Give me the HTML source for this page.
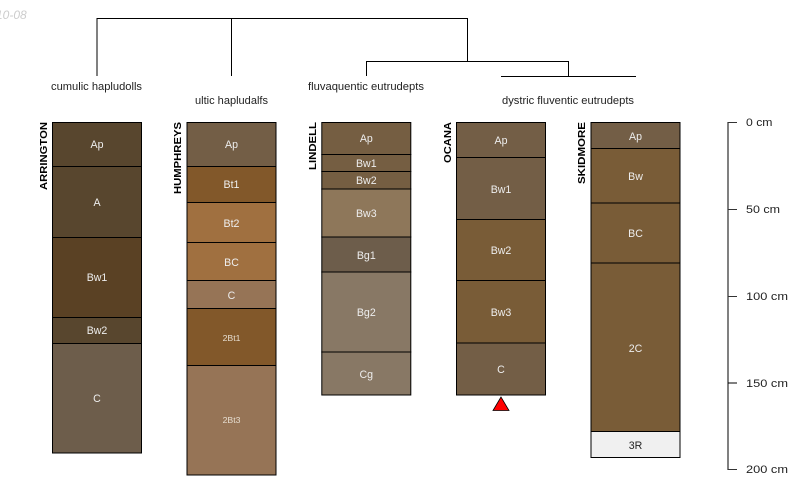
<!DOCTYPE html>
<html><head><meta charset="utf-8"><style>
html,body{margin:0;padding:0;background:#fff}
svg{display:block}
text{font-family:"Liberation Sans",sans-serif}
.t{font-size:10.6px;fill:#222}
.h{font-size:10.6px;fill:#eee;text-anchor:middle}
.s{font-size:8.7px;fill:#e6ddd0;text-anchor:middle}
.n{font-size:10px;font-weight:bold;fill:#000}
rect{stroke:#000;stroke-width:1}
line{stroke:#000;stroke-width:1}
</style></head><body>
<svg width="800" height="500" viewBox="0 0 800 500" xmlns="http://www.w3.org/2000/svg">
<text x="-4" y="19" font-size="12" font-style="italic" fill="#ccc">10-08</text>

<g>
<line x1="97" y1="18.5" x2="467.5" y2="18.5"/>
<line x1="97" y1="18" x2="97" y2="76"/>
<line x1="231.5" y1="18" x2="231.5" y2="76"/>
<line x1="467.5" y1="18" x2="467.5" y2="61.5"/>
<line x1="366" y1="61.5" x2="568.5" y2="61.5"/>
<line x1="366.5" y1="61" x2="366.5" y2="76"/>
<line x1="568.5" y1="61" x2="568.5" y2="76"/>
<line x1="501" y1="76.5" x2="636" y2="76.5"/>
</g>

<text class="t" x="51" y="90" textLength="91" lengthAdjust="spacingAndGlyphs">cumulic hapludolls</text>
<text class="t" x="195" y="104" textLength="73" lengthAdjust="spacingAndGlyphs">ultic hapludalfs</text>
<text class="t" x="308" y="90" textLength="116" lengthAdjust="spacingAndGlyphs">fluvaquentic eutrudepts</text>
<text class="t" x="502" y="104" textLength="132" lengthAdjust="spacingAndGlyphs">dystric fluventic eutrudepts</text>

<!-- ARRINGTON -->
<rect x="52.5" y="122.5" width="89" height="44" fill="#58462e"/>
<rect x="52.5" y="166.5" width="89" height="71" fill="#58462e"/>
<rect x="52.5" y="237.5" width="89" height="80" fill="#5a4124"/>
<rect x="52.5" y="317.5" width="89" height="26" fill="#58462e"/>
<rect x="52.5" y="343.5" width="89" height="109.5" fill="#6d5d4b"/>
<text class="h" x="97" y="148">Ap</text>
<text class="h" x="97" y="206">A</text>
<text class="h" x="97" y="281">Bw1</text>
<text class="h" x="97" y="334">Bw2</text>
<text class="h" x="97" y="402">C</text>
<text class="n" transform="translate(47,190) rotate(-90)" textLength="68" lengthAdjust="spacingAndGlyphs">ARRINGTON</text>

<!-- HUMPHREYS -->
<rect x="187" y="122.5" width="89" height="44" fill="#735e46"/>
<rect x="187" y="166.5" width="89" height="36" fill="#82582a"/>
<rect x="187" y="202.5" width="89" height="40" fill="#a07040"/>
<rect x="187" y="242.5" width="89" height="38" fill="#a07040"/>
<rect x="187" y="280.5" width="89" height="28" fill="#967456"/>
<rect x="187" y="308.5" width="89" height="57" fill="#82582a"/>
<rect x="187" y="365.5" width="89" height="109.5" fill="#967456"/>
<text class="h" x="231.5" y="148">Ap</text>
<text class="h" x="231.5" y="188">Bt1</text>
<text class="h" x="231.5" y="227">Bt2</text>
<text class="h" x="231.5" y="266">BC</text>
<text class="h" x="231.5" y="299">C</text>
<text class="s" x="231.5" y="341">2Bt1</text>
<text class="s" x="231.5" y="423">2Bt3</text>
<text class="n" transform="translate(181,194) rotate(-90)" textLength="72" lengthAdjust="spacingAndGlyphs">HUMPHREYS</text>

<!-- LINDELL -->
<rect x="321.8" y="122.5" width="89" height="32" fill="#755e42"/>
<rect x="321.8" y="154.5" width="89" height="17" fill="#755e42"/>
<rect x="321.8" y="171.5" width="89" height="17.5" fill="#755e42"/>
<rect x="321.8" y="189" width="89" height="48" fill="#8e775a"/>
<rect x="321.8" y="237" width="89" height="35" fill="#6d5d4b"/>
<rect x="321.8" y="272" width="89" height="80" fill="#887865"/>
<rect x="321.8" y="352" width="89" height="43" fill="#887865"/>
<text class="h" x="366.3" y="142">Ap</text>
<text class="h" x="366.3" y="167">Bw1</text>
<text class="h" x="366.3" y="184">Bw2</text>
<text class="h" x="366.3" y="217">Bw3</text>
<text class="h" x="366.3" y="259">Bg1</text>
<text class="h" x="366.3" y="316">Bg2</text>
<text class="h" x="366.3" y="378">Cg</text>
<text class="n" transform="translate(316,170) rotate(-90)" textLength="48" lengthAdjust="spacingAndGlyphs">LINDELL</text>

<!-- OCANA -->
<rect x="456.5" y="122.5" width="89" height="35" fill="#735e46"/>
<rect x="456.5" y="157.5" width="89" height="62" fill="#735e46"/>
<rect x="456.5" y="219.5" width="89" height="61" fill="#795c37"/>
<rect x="456.5" y="280.5" width="89" height="62.5" fill="#795c37"/>
<rect x="456.5" y="343" width="89" height="52" fill="#735e46"/>
<text class="h" x="501" y="144">Ap</text>
<text class="h" x="501" y="193">Bw1</text>
<text class="h" x="501" y="254">Bw2</text>
<text class="h" x="501" y="316">Bw3</text>
<text class="h" x="501" y="373">C</text>
<text class="n" transform="translate(451,163) rotate(-90)" textLength="41" lengthAdjust="spacingAndGlyphs">OCANA</text>
<polygon points="501,397 493,410.5 509,410.5" fill="#f00" stroke="#000" stroke-width="0.8"/>

<!-- SKIDMORE -->
<rect x="591" y="122.5" width="89" height="26" fill="#735e46"/>
<rect x="591" y="148.5" width="89" height="54.5" fill="#795c37"/>
<rect x="591" y="203" width="89" height="60" fill="#795c37"/>
<rect x="591" y="263" width="89" height="168.5" fill="#795c37"/>
<rect x="591" y="431.5" width="89" height="26" fill="#f0f0f0"/>
<text class="h" x="635.5" y="140">Ap</text>
<text class="h" x="635.5" y="180">Bw</text>
<text class="h" x="635.5" y="237">BC</text>
<text class="h" x="635.5" y="352">2C</text>
<text class="h" x="635.5" y="449" style="fill:#222">3R</text>
<text class="n" transform="translate(585,184) rotate(-90)" textLength="62" lengthAdjust="spacingAndGlyphs">SKIDMORE</text>

<!-- Depth axis -->
<g>
<line x1="728" y1="122" x2="728" y2="470"/>
<line x1="728" y1="122.5" x2="737" y2="122.5" style="stroke:#333"/>
<line x1="728" y1="209.5" x2="737" y2="209.5" style="stroke:#333"/>
<line x1="728" y1="296.5" x2="737" y2="296.5" style="stroke:#333"/>
<line x1="728" y1="383" x2="737" y2="383"/>
<line x1="728" y1="469.5" x2="737" y2="469.5" style="stroke:#333"/>
</g>
<text class="t" x="746" y="126" textLength="26.5" lengthAdjust="spacingAndGlyphs">0 cm</text>
<text class="t" x="746" y="213" textLength="34" lengthAdjust="spacingAndGlyphs">50 cm</text>
<text class="t" x="746" y="300" textLength="42" lengthAdjust="spacingAndGlyphs">100 cm</text>
<text class="t" x="746" y="387" textLength="42" lengthAdjust="spacingAndGlyphs">150 cm</text>
<text class="t" x="746" y="473" textLength="42" lengthAdjust="spacingAndGlyphs">200 cm</text>
</svg>
</body></html>
